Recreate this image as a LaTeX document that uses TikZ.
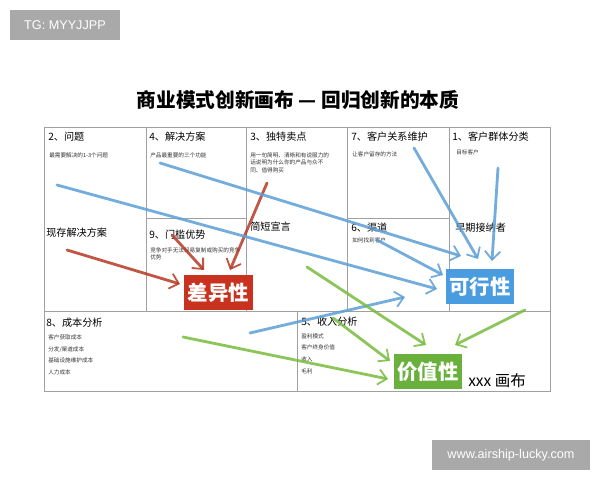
\documentclass[tikz,border=0pt]{standalone}
\usepackage{fontspec}
\setmainfont{Noto Sans CJK SC}
\newfontfamily\tagfont{Liberation Sans}
\usetikzlibrary{arrows.meta}
\definecolor{tggray}{HTML}{A9A9A9}
\definecolor{gridgray}{HTML}{A0A0A0}
\definecolor{diffred}{HTML}{C8321E}
\definecolor{feasblue}{HTML}{4A9CE0}
\definecolor{valgreen}{HTML}{6AB03C}
\definecolor{redline}{HTML}{B53A24}
\definecolor{blueline}{HTML}{5C9FD6}
\definecolor{greenline}{HTML}{78BC3E}
\tikzset{
  tagbox/.style={fill=tggray, text=white, inner sep=0pt, font=\tagfont\fontsize{9}{9}\selectfont},
  celltitle/.style={anchor=north west, inner sep=0pt, font=\fontsize{7.2}{8}\selectfont},
  note/.style={anchor=north west, inner sep=0pt, align=left, text=black!80,
    font=\fontsize{4}{5.6}\selectfont},
  keybox/.style={text=white, inner sep=0pt, minimum width=1.72cm, minimum height=0.86cm,
    font=\fontsize{14.5}{15}\selectfont\bfseries},
  grid/.style={draw=gridgray, line width=0.7pt},
  brush/.style={line width=2pt, line cap=round, opacity=.85,
    -{Straight Barb[length=6pt,width=11pt,line width=1.3pt]}}
}
\begin{document}
\begin{tikzpicture}[x=0.025cm, y=-0.025cm]
  \useasboundingbox (0,0) rectangle (600,480);
  % tag and title
  \node[tagbox, minimum width=2.75cm, minimum height=0.75cm] (tg) at (65,25) {TG: MYYJJPP};
  \node[font=\fontsize{14}{14}\selectfont\bfseries] (title) at (298,100)
    {商业模式创新画布 — 回归创新的本质};
  % canvas grid
  \draw[grid] (44,127) rectangle (550,391);
  \draw[grid] (44,311) -- (550,311);
  \draw[grid] (146,127) -- (146,311) (246,127) -- (246,311)
    (347,127) -- (347,311) (449,127) -- (449,311) (297,311) -- (297,391);
  \draw[grid] (146,218) -- (246,218) (347,218) -- (449,218);
  % cell titles
  \node[celltitle] (p2) at (48,132) {2、问题};
  \node[celltitle] (p4) at (149,132) {4、解决方案};
  \node[celltitle] (p3) at (250,132) {3、独特卖点};
  \node[celltitle] (p7) at (351,132) {7、客户关系维护};
  \node[celltitle] (p1) at (452,132) {1、客户群体分类};
  \node[celltitle] (p9) at (149,230) {9、门槛优势};
  \node[celltitle] (p6) at (351,223) {6、渠道};
  \node[celltitle] (p8) at (46,318) {8、成本分析};
  \node[celltitle] (p5) at (301,317) {5、收入分析};
  \node[celltitle] (exist) at (46,228) {现存解决方案};
  \node[celltitle] (pitch) at (250,222) {简短宣言};
  \node[celltitle] (early) at (455,223) {早期接纳者};
  % notes
  \node[note] (n2) at (49,152) {最需要解决的1-3个问题};
  \node[note] (n4) at (150,152) {产品最重要的三个功能};
  \node[note] (n3) at (250,152) {用一句简明、清晰和有说服力的\\话说明为什么你的产品与众不\\同、值得购买};
  \node[note] (n7) at (352,151) {让客户留存的方法};
  \node[note] (n1) at (456,149) {目标客户};
  \node[note] (n9) at (150,247) {竞争对手无法轻易复制或购买的竞争\\优势};
  \node[note] (n6) at (352,237) {如何找到客户};
  \node[note, font=\fontsize{4}{8.5}\selectfont] (n8) at (48,334)
    {客户获取成本\\分发/渠道成本\\基础设施维护成本\\人力成本};
  \node[note, font=\fontsize{4}{8.5}\selectfont] (n5) at (301,333)
    {盈利模式\\客户终身价值\\收入\\毛利};
  % key boxes
  \node[keybox, fill=diffred] (diff) at (218.5,292.5) {差异性};
  \node[keybox, fill=feasblue] (feas) at (480,286.5) {可行性};
  \node[keybox, fill=valgreen] (val) at (428,371.5) {价值性};
  \node[anchor=west, inner sep=0pt, font=\fontsize{11}{11}\selectfont] (xxx) at (468,381) {xxx 画布};
  % arrow ends
  \coordinate (r1s) at (67,250);   \coordinate (r1e) at (180,284);
  \coordinate (r2s) at (172,235);  \coordinate (r2e) at (204,270);
  \coordinate (r3s) at (267,183);  \coordinate (r3e) at (230,270);
  \coordinate (b1s) at (57,185);   \coordinate (b1e) at (437,289);
  \coordinate (b2s) at (160,163);  \coordinate (b2e) at (461,256);
  \coordinate (b3s) at (377,240);  \coordinate (b3e) at (443,275);
  \coordinate (b4s) at (414,148);  \coordinate (b4e) at (478,259);
  \coordinate (b5s) at (498,168);  \coordinate (b5e) at (492,261);
  \coordinate (b6s) at (250,333);  \coordinate (b6e) at (405,297);
  \coordinate (g1s) at (307,267);  \coordinate (g1e) at (426,345);
  \coordinate (g2s) at (183,337);  \coordinate (g2e) at (388,379);
  \coordinate (g3s) at (333,318);  \coordinate (g3e) at (390,361);
  \coordinate (g4s) at (525,310);  \coordinate (g4e) at (455,345);
  \begin{scope}[brush, draw=redline]
    \draw (r1s) to (r1e);
    \draw (r2s) to (r2e);
    \draw (r3s) to (r3e);
  \end{scope}
  \begin{scope}[brush, draw=blueline]
    \draw (b1s) to (b1e);
    \draw (b2s) to (b2e);
    \draw (b3s) to (b3e);
    \draw (b4s) to (b4e);
    \draw (b5s) to (b5e);
    \draw (b6s) to (b6e);
  \end{scope}
  \begin{scope}[brush, draw=greenline]
    \draw (g1s) to (g1e);
    \draw (g2s) to (g2e);
    \draw (g3s) to (g3e);
    \draw (g4s) to (g4e);
  \end{scope}
  % watermark
  \node[tagbox, minimum width=3.95cm, minimum height=0.75cm] (web) at (511,455) {www.airship-lucky.com};
\end{tikzpicture}
\end{document}
